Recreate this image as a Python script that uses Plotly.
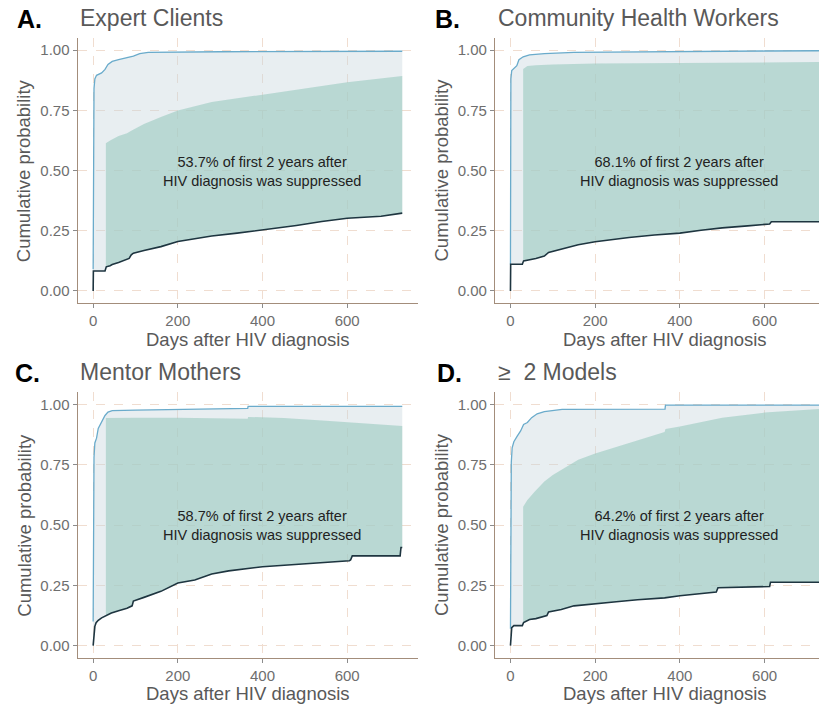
import plotly.graph_objects as go

# ---------------- data ----------------
panel_labels = ["A.", "B.", "C.", "D."]
panel_titles = ["Expert Clients", "Community Health Workers", "Mentor Mothers", "≥\u00a0 2 Models"]
suppressed_pct = ["53.7%", "68.1%", "58.7%", "64.2%"]

day_ticks = [0, 200, 400, 600]
prob_ticks = [0, 0.25, 0.5, 0.75, 1.0]
prob_ticktext = ["0.00", "0.25", "0.50", "0.75", "1.00"]
suppression_start_day = 30

# A. Expert Clients
a_blue_days = [0, 0.5, 1, 2, 4, 8, 20, 28, 35, 45, 60, 80, 95, 110, 130, 300, 730]
a_blue_prob = [0.09, 0.60, 0.78, 0.84, 0.88, 0.895, 0.905, 0.92, 0.94, 0.953, 0.96, 0.967, 0.975, 0.985, 0.99, 0.993, 0.995]
a_dark_days = [0, 0.5, 28, 31, 40, 45, 60, 75, 85, 90, 95, 120, 160, 200, 240, 280, 340, 400, 440, 480, 540, 600, 680, 720, 730]
a_dark_prob = [0, 0.083, 0.083, 0.10, 0.105, 0.11, 0.118, 0.128, 0.135, 0.15, 0.157, 0.168, 0.184, 0.205, 0.217, 0.228, 0.24, 0.253, 0.262, 0.272, 0.288, 0.302, 0.31, 0.32, 0.323]
a_supp_days = [30, 40, 60, 80, 90, 100, 120, 160, 200, 280, 400, 500, 600, 730]
a_supp_prob = [0.613, 0.625, 0.643, 0.655, 0.665, 0.675, 0.693, 0.722, 0.749, 0.784, 0.815, 0.843, 0.866, 0.892]

# B. Community Health Workers
b_blue_days = [0, 0.5, 1, 3, 8, 15, 20, 30, 45, 80, 150, 300, 600, 730]
b_blue_prob = [0.11, 0.80, 0.88, 0.915, 0.925, 0.935, 0.96, 0.972, 0.98, 0.985, 0.99, 0.993, 0.996, 0.997]
b_dark_days = [0, 0.5, 28, 31, 60, 80, 90, 120, 160, 200, 280, 340, 400, 450, 500, 560, 600, 612, 616, 730]
b_dark_prob = [0, 0.111, 0.111, 0.125, 0.135, 0.145, 0.16, 0.173, 0.192, 0.204, 0.222, 0.232, 0.24, 0.252, 0.262, 0.27, 0.277, 0.278, 0.287, 0.287]
b_supp_days = [30, 40, 60, 100, 200, 400, 600, 730]
b_supp_prob = [0.921, 0.934, 0.937, 0.94, 0.944, 0.947, 0.949, 0.95]

# C. Mentor Mothers
c_blue_days = [0, 0.5, 1, 2, 4, 8, 12, 20, 28, 35, 45, 100, 200, 365, 366, 730]
c_blue_prob = [0.10, 0.55, 0.70, 0.78, 0.84, 0.86, 0.90, 0.927, 0.954, 0.968, 0.974, 0.976, 0.979, 0.983, 0.992, 0.992]
c_dark_days = [0, 1, 2, 4, 7, 12, 20, 31, 43, 60, 80, 92, 95, 120, 160, 200, 240, 280, 320, 400, 480, 560, 605, 608, 612, 725, 727, 730]
c_dark_prob = [0, 0.03, 0.06, 0.08, 0.095, 0.105, 0.115, 0.126, 0.135, 0.145, 0.155, 0.165, 0.185, 0.2, 0.225, 0.26, 0.272, 0.297, 0.31, 0.327, 0.337, 0.345, 0.352, 0.355, 0.372, 0.372, 0.407, 0.407]
c_supp_days = [30, 100, 200, 300, 365, 366, 450, 550, 650, 730]
c_supp_prob = [0.943, 0.945, 0.944, 0.942, 0.940, 0.948, 0.943, 0.932, 0.92, 0.91]

# D. >= 2 Models
d_blue_days = [0, 0.5, 1, 2, 4, 8, 16, 24, 31, 40, 50, 63, 80, 100, 122, 365, 366, 730]
d_blue_prob = [0.07, 0.5, 0.68, 0.76, 0.82, 0.845, 0.868, 0.89, 0.917, 0.925, 0.945, 0.961, 0.97, 0.975, 0.979, 0.98, 0.997, 0.997]
d_dark_days = [0, 1, 3, 8, 28, 31, 45, 60, 75, 86, 90, 120, 150, 200, 250, 300, 364, 400, 450, 486, 490, 560, 612, 614, 730]
d_dark_prob = [0, 0.06, 0.075, 0.083, 0.083, 0.096, 0.108, 0.112, 0.118, 0.125, 0.14, 0.15, 0.165, 0.175, 0.182, 0.19, 0.198, 0.207, 0.215, 0.222, 0.24, 0.244, 0.245, 0.263, 0.263]
d_supp_days = [30, 40, 57, 80, 100, 120, 160, 200, 280, 364, 366, 400, 500, 600, 730]
d_supp_prob = [0.576, 0.604, 0.638, 0.68, 0.707, 0.729, 0.77, 0.796, 0.84, 0.885, 0.898, 0.908, 0.945, 0.966, 0.981]

panels = [
    (a_blue_days, a_blue_prob, a_dark_days, a_dark_prob, a_supp_days, a_supp_prob),
    (b_blue_days, b_blue_prob, b_dark_days, b_dark_prob, b_supp_days, b_supp_prob),
    (c_blue_days, c_blue_prob, c_dark_days, c_dark_prob, c_supp_days, c_supp_prob),
    (d_blue_days, d_blue_prob, d_dark_days, d_dark_prob, d_supp_days, d_supp_prob),
]

# ---------------- styling / layout ----------------
PAGE_OFFSET = 8          # default body margin of the html page
W, H = 827 - PAGE_OFFSET, 704 - PAGE_OFFSET
FONT = "Liberation Sans, Arial, Helvetica, sans-serif"
BLUE = "#6AABCB"
DARK = "#1E3540"
LIGHT_FILL = "rgba(200,215,222,0.42)"
TEAL_FILL = "rgba(154,201,192,0.6)"
GRID = "#F0DDD0"
AXIS = "#A38D7B"
TICKTXT = "#6E6E6E"
TITLETXT = "#595959"


def px_x(x):
    return (x - PAGE_OFFSET) / W


def px_y(y):
    return 1 - (y - PAGE_OFFSET) / H


# pixel boxes of the panel areas in the page: (left, right, top, bottom, x range)
boxes = [
    (77.7, 417.7, 38.0, 303.0, [-36.5, 766.5]),
    (495.0, 827.0, 38.0, 303.0, [-36.5, -36.5 + (827 - 495) / 0.4235]),
    (77.7, 417.7, 392.3, 657.7, [-36.5, 766.5]),
    (495.0, 827.0, 392.3, 657.7, [-36.5, -36.5 + (827 - 495) / 0.4235]),
]
label_x = [15, 433, 13, 435]


def curve_from(days, vals, start):
    """Part of a curve from `start` on, with its (linearly read) value at `start`."""
    v0 = vals[0]
    for k in range(len(days) - 1):
        if days[k] <= start <= days[k + 1]:
            t = (start - days[k]) / (days[k + 1] - days[k])
            v0 = vals[k] + t * (vals[k + 1] - vals[k])
            break
    xs = [start] + [d for d in days if d > start]
    ys = [v0] + [v for d, v in zip(days, vals) if d > start]
    return xs, ys


fig = go.Figure()
layout = dict(
    width=W, height=H, margin=dict(l=0, r=0, t=0, b=0),
    paper_bgcolor="white", plot_bgcolor="rgba(0,0,0,0)",
    showlegend=False, font=dict(family=FONT),
)
annotations = []

for i, (bd, bp, dd, dp, sd, sp) in enumerate(panels):
    n = "" if i == 0 else str(i + 1)
    xa, ya = "x" + n, "y" + n
    # light region between the dark curve and the blue curve
    fig.add_trace(go.Scatter(x=dd, y=dp, mode="lines", line=dict(width=0),
                             xaxis=xa, yaxis=ya, hoverinfo="skip"))
    fig.add_trace(go.Scatter(x=bd, y=bp, mode="lines", fill="tonexty", fillcolor=LIGHT_FILL,
                             line=dict(color=BLUE, width=1.3),
                             xaxis=xa, yaxis=ya))
    # teal suppression region
    lx, ly = curve_from(dd, dp, suppression_start_day)
    fig.add_trace(go.Scatter(x=lx, y=ly, mode="lines", line=dict(width=0),
                             xaxis=xa, yaxis=ya, hoverinfo="skip"))
    fig.add_trace(go.Scatter(x=sd, y=sp, mode="lines", fill="tonexty", fillcolor=TEAL_FILL,
                             line=dict(width=0), xaxis=xa, yaxis=ya))
    # dark curve on top
    fig.add_trace(go.Scatter(x=dd, y=dp, mode="lines", line=dict(color=DARK, width=1.6),
                             xaxis=xa, yaxis=ya))

    left, right, top, bottom, xr = boxes[i]
    axis_common = dict(
        showline=True, linecolor=AXIS, linewidth=1.3, mirror=False,
        showgrid=True, gridcolor=GRID, gridwidth=1, griddash="dash",
        zeroline=False, ticks="outside", ticklen=4, tickcolor="#8C8C8C",
        tickfont=dict(size=15, color=TICKTXT, family=FONT),
    )
    layout["xaxis" + n] = dict(axis_common, domain=[px_x(left), min(1.0, px_x(right))], range=xr,
                               anchor=ya, tickvals=day_ticks)
    layout["yaxis" + n] = dict(axis_common, domain=[px_y(bottom), px_y(top)], range=[-0.05, 1.05],
                               anchor=xa, tickvals=prob_ticks, ticktext=prob_ticktext)

    # texts
    annotations.append(dict(xref="x" + n, yref="y" + n, x=399, y=0.497,
                            text=f"{suppressed_pct[i]} of first 2 years after<br>HIV diagnosis was suppressed",
                            showarrow=False, align="center", xanchor="center", yanchor="middle",
                            font=dict(size=14.5, color="#222222", family=FONT)))
    annotations.append(dict(xref="paper", yref="paper", x=px_x(label_x[i]), y=px_y(top - 19),
                            text=f"<b>{panel_labels[i]}</b>", showarrow=False,
                            xanchor="left", yanchor="middle",
                            font=dict(size=25, color="#000000", family=FONT)))
    annotations.append(dict(xref="paper", yref="paper", x=px_x(left + 0.5), y=px_y(top - 20),
                            text=panel_titles[i], showarrow=False,
                            xanchor="left", yanchor="middle",
                            font=dict(size=23, color=TITLETXT, family=FONT)))
    annotations.append(dict(xref="paper", yref="paper", x=px_x(left - 54), y=px_y((top + bottom) / 2),
                            text="Cumulative probability", textangle=-90, showarrow=False,
                            xanchor="center", yanchor="middle",
                            font=dict(size=18.5, color=TITLETXT, family=FONT)))
    annotations.append(dict(xref="paper", yref="paper", x=px_x(left + 170), y=px_y(bottom + 36),
                            text="Days after HIV diagnosis", showarrow=False,
                            xanchor="center", yanchor="middle",
                            font=dict(size=18.5, color=TITLETXT, family=FONT)))

layout["annotations"] = annotations
fig.update_layout(**layout)
fig.write_html("out.html")
